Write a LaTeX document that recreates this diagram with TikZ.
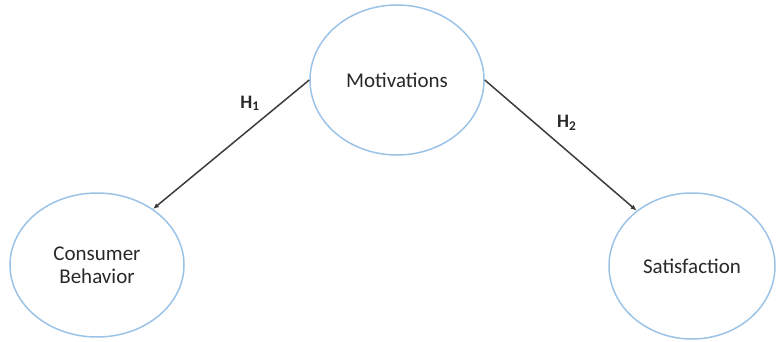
\documentclass[tikz,border=0pt]{standalone}
\usepackage{fontspec}
\setmainfont{Carlito}
\usepackage{tikz}
\usetikzlibrary{arrows.meta,positioning,shapes.geometric}

\definecolor{ovalblue}{RGB}{155,195,232}
\definecolor{textgray}{RGB}{40,40,40}
\definecolor{linegray}{RGB}{60,60,60}

\begin{document}
\begin{tikzpicture}[
  x=1pt, y=-1pt,
  >=Latex,
  font=\fontsize{21}{23}\selectfont,
  construct/.style={ellipse, draw=ovalblue, line width=1.5pt, text=textgray, align=center, inner sep=0pt},
  arr/.style={-{Latex[length=6pt,width=5pt]}, draw=linegray, line width=1.5pt},
  hyp/.style={text=textgray, font=\fontsize{19}{21}\selectfont\bfseries}
]
\useasboundingbox (0,0) rectangle (776,342);

% Constructs
\node[construct, minimum width=174pt, minimum height=150pt] (mot) at (397,80) {Motivations};
\node[construct, minimum width=174pt, minimum height=144pt] (cb) at (97,265) {Consumer\\Behavior};
\node[construct, minimum width=166pt, minimum height=146pt] (sat) at (692,266) {Satisfaction};

% Hypotheses
\draw[arr] (mot.west) -- node[hyp, pos=0.38, above=14pt] {H\textsubscript{1}} (cb.45);
\draw[arr] (mot.east) -- node[hyp, pos=0.54, above=16pt] {H\textsubscript{2}} (sat.135);

\end{tikzpicture}
\end{document}
